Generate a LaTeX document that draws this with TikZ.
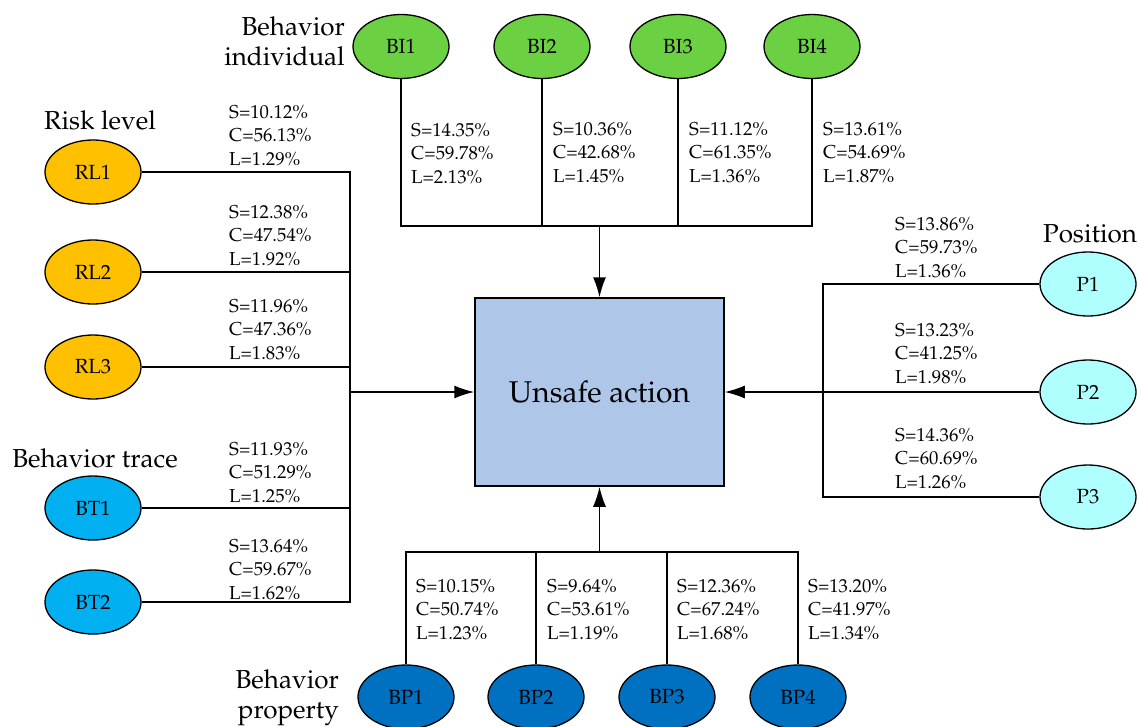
\documentclass[tikz,border=0pt]{standalone}
\usepackage[T1]{fontenc}
\usepackage{mathpazo}
\usetikzlibrary{shapes.geometric,arrows.meta}
\definecolor{rlfill}{HTML}{FFC000}
\definecolor{btfill}{HTML}{00B0F0}
\definecolor{bifill}{HTML}{6BD143}
\definecolor{pfill}{HTML}{AFFFFF}
\definecolor{bpfill}{HTML}{0070C0}
\definecolor{boxfill}{HTML}{AEC6E8}
\tikzset{
  factor/.style={ellipse,draw,line width=1.3pt,minimum width=96,minimum height=64,inner sep=0pt,font=\fontsize{20.5}{24}\selectfont},
  stats/.style={anchor=south west,align=left,inner sep=0pt,font=\fontsize{18.7}{23.5}\selectfont},
  group/.style={align=right,inner sep=0pt,font=\fontsize{26}{30}\selectfont},
  link/.style={line width=1.5pt},
  arr/.style={line width=1.5pt,-{Latex[length=20pt,width=13pt]}}
}
\begin{document}
\begin{tikzpicture}[x=1pt,y=-1pt]
      \useasboundingbox (0,0) rectangle (1139,726);
      \node[draw,line width=1.5pt,fill=boxfill,minimum width=249,minimum height=188,font=\fontsize{30}{34}\selectfont] (UA) at (599.5,392) {Unsafe action};
      \node[factor,fill=rlfill] (RL1) at (93,172) {RL1};
      \node[factor,fill=rlfill] (RL2) at (93,272) {RL2};
      \node[factor,fill=rlfill] (RL3) at (93,367) {RL3};
      \node[factor,fill=btfill] (BT1) at (93,508) {BT1};
      \node[factor,fill=btfill] (BT2) at (93,602) {BT2};
      \node[factor,fill=bifill] (BI1) at (401,46.5) {BI1};
      \node[factor,fill=bifill] (BI2) at (542,46.5) {BI2};
      \node[factor,fill=bifill] (BI3) at (678,46.5) {BI3};
      \node[factor,fill=bifill] (BI4) at (812,46.5) {BI4};
      \node[factor,fill=pfill] (P1) at (1088,284) {P1};
      \node[factor,fill=pfill] (P2) at (1088,392) {P2};
      \node[factor,fill=pfill] (P3) at (1088,497) {P3};
      \node[factor,fill=bpfill] (BP1) at (406,697) {BP1};
      \node[factor,fill=bpfill] (BP2) at (536,697) {BP2};
      \node[factor,fill=bpfill] (BP3) at (667,697) {BP3};
      \node[factor,fill=bpfill] (BP4) at (798,697) {BP4};
      \node[group,anchor=base] (riskname) at (100,129) {Risk level};
      \node[group,anchor=base] (tracename) at (95,467) {Behavior trace};
      \node[group,anchor=north east] (indivname) at (345,16) {Behavior\\individual};
      \node[group,anchor=base] (posname) at (1090,242) {Position};
      \node[group,anchor=north east] (propname) at (339,669) {Behavior\\property};
      \coordinate (Lbus) at (350,392);
      \coordinate (Tbus) at (599.5,226);
      \coordinate (Rbus) at (823,392);
      \coordinate (Bbus) at (599.5,552);
      \draw[link] (RL1) -- (RL1 -| Lbus) -- (BT2 -| Lbus) -- (BT2);
      \draw[link] (RL2) -- (RL2 -| Lbus);
      \draw[link] (RL3) -- (RL3 -| Lbus);
      \draw[link] (BT1) -- (BT1 -| Lbus);
      \draw[arr] (Lbus) -- (UA);
      \draw[link] (BI1) -- (BI1 |- Tbus) -- (BI4 |- Tbus) -- (BI4);
      \draw[link] (BI2) -- (BI2 |- Tbus);
      \draw[link] (BI3) -- (BI3 |- Tbus);
      \draw[arr] (Tbus) -- (UA);
      \draw[link] (P1) -- (P1 -| Rbus) -- (P3 -| Rbus) -- (P3);
      \draw[arr] (P2) -- (UA);
      \draw[link] (BP1) -- (BP1 |- Bbus) -- (BP4 |- Bbus) -- (BP4);
      \draw[link] (BP2) -- (BP2 |- Bbus);
      \draw[link] (BP3) -- (BP3 |- Bbus);
      \draw[arr] (Bbus) -- (UA);
      \node[stats] (sRL1) at (229,166) {S=10.12\%\\C=56.13\%\\L=1.29\%};
      \node[stats] (sRL2) at (229,266) {S=12.38\%\\C=47.54\%\\L=1.92\%};
      \node[stats] (sRL3) at (229,360) {S=11.96\%\\C=47.36\%\\L=1.83\%};
      \node[stats] (sBT1) at (229,503) {S=11.93\%\\C=51.29\%\\L=1.25\%};
      \node[stats] (sBT2) at (229,600) {S=13.64\%\\C=59.67\%\\L=1.62\%};
      \node[stats] (sBI1) at (411,184) {S=14.35\%\\C=59.78\%\\L=2.13\%};
      \node[stats] (sBI2) at (553,183) {S=10.36\%\\C=42.68\%\\L=1.45\%};
      \node[stats] (sBI3) at (689,183) {S=11.12\%\\C=61.35\%\\L=1.36\%};
      \node[stats] (sBI4) at (823,183) {S=13.61\%\\C=54.69\%\\L=1.87\%};
      \node[stats] (sP1) at (895,278) {S=13.86\%\\C=59.73\%\\L=1.36\%};
      \node[stats] (sP2) at (895,384) {S=13.23\%\\C=41.25\%\\L=1.98\%};
      \node[stats] (sP3) at (895,489) {S=14.36\%\\C=60.69\%\\L=1.26\%};
      \node[stats] (sBP1) at (416,640) {S=10.15\%\\C=50.74\%\\L=1.23\%};
      \node[stats] (sBP2) at (547,640) {S=9.64\%\\C=53.61\%\\L=1.19\%};
      \node[stats] (sBP3) at (677,640) {S=12.36\%\\C=67.24\%\\L=1.68\%};
      \node[stats] (sBP4) at (808,640) {S=13.20\%\\C=41.97\%\\L=1.34\%};
    \end{tikzpicture}
\end{document}
